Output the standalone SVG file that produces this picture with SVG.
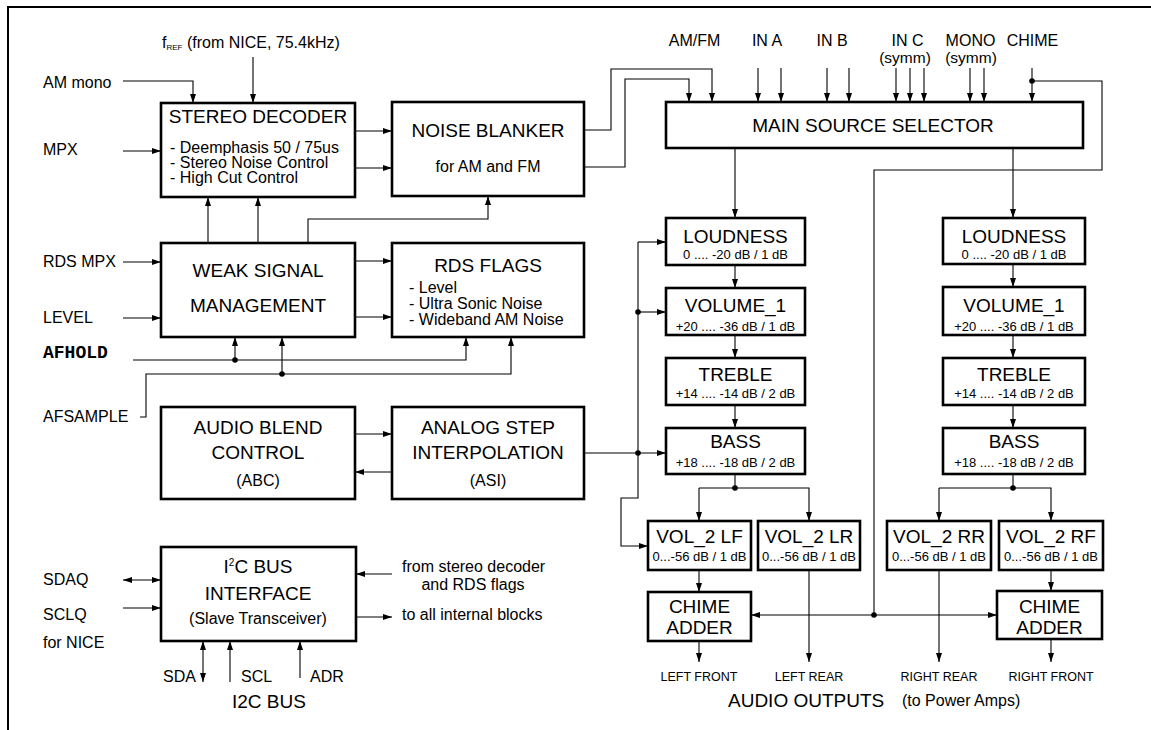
<svg xmlns="http://www.w3.org/2000/svg" width="1151" height="730" viewBox="0 0 1151 730">
<defs>
<marker id="ah" viewBox="0 0 9 6" refX="9" refY="3" markerWidth="9" markerHeight="6" markerUnits="userSpaceOnUse" orient="auto-start-reverse">
<path d="M0,0 L9,3 L0,6 z" fill="#000"/>
</marker>
<style>
text{font-family:"Liberation Sans",Arial,sans-serif;fill:#000}
.box{fill:#fff;stroke:#000;stroke-width:2.6}
.ln{fill:none;stroke:#000;stroke-width:1.1}
.a{marker-end:url(#ah)}
.aa{marker-end:url(#ah);marker-start:url(#ah)}
.t19{font-size:19px}
.t16{font-size:16px}
.t15{font-size:15.5px}
.t13{font-size:13px}
.t12{font-size:12.5px}
.c{text-anchor:middle}
.mono{font-family:"Liberation Mono","Courier New",monospace;font-weight:bold;font-size:18px}
.dot{fill:#000}
</style>
</defs>
<rect width="1151" height="730" fill="#fff"/>
<path d="M8,730 V7 H1151" fill="none" stroke="#000" stroke-width="2"/>

<g id="stereo-decoder">
<rect class="box" x="161" y="103" width="194" height="94"/>
<text class="t19 c" x="258" y="123">STEREO DECODER</text>
<text class="t16" x="170" y="153">- Deemphasis 50 / 75us</text>
<text class="t16" x="170" y="168">- Stereo Noise Control</text>
<text class="t16" x="170" y="183">- High Cut Control</text>
</g>
<g id="noise-blanker">
<rect class="box" x="392" y="102" width="192" height="94"/>
<text class="t19 c" x="488" y="137">NOISE BLANKER</text>
<text class="t16 c" x="488" y="172">for AM and FM</text>
</g>
<g id="weak-signal">
<rect class="box" x="161" y="243" width="194" height="94"/>
<text class="t19 c" x="258" y="277">WEAK SIGNAL</text>
<text class="t19 c" x="258" y="312">MANAGEMENT</text>
</g>
<g id="rds-flags">
<rect class="box" x="392" y="243" width="192" height="94"/>
<text class="t19 c" x="488" y="272">RDS FLAGS</text>
<text class="t16" x="409" y="293">- Level</text>
<text class="t16" x="409" y="309">- Ultra Sonic Noise</text>
<text class="t16" x="409" y="325">- Wideband AM Noise</text>
</g>
<g id="abc">
<rect class="box" x="161" y="407" width="194" height="92"/>
<text class="t19 c" x="258" y="434">AUDIO BLEND</text>
<text class="t19 c" x="258" y="459">CONTROL</text>
<text class="t16 c" x="258" y="486">(ABC)</text>
</g>
<g id="asi">
<rect class="box" x="392" y="407" width="192" height="92"/>
<text class="t19 c" x="488" y="434">ANALOG STEP</text>
<text class="t19 c" x="488" y="459">INTERPOLATION</text>
<text class="t16 c" x="488" y="486">(ASI)</text>
</g>
<g id="i2c">
<rect class="box" x="161" y="547" width="195" height="94"/>
<text class="t19 c" x="258" y="573">I<tspan font-size="10" baseline-shift="7">2</tspan>C BUS</text>
<text class="t19 c" x="258" y="600">INTERFACE</text>
<text class="t16 c" x="258" y="624">(Slave Transceiver)</text>
</g>
<g id="main-source-selector">
<rect class="box" x="666" y="102" width="417" height="46"/>
<text class="t19 c" x="873" y="132">MAIN SOURCE SELECTOR</text>
</g>
<g id="loudness-l">
<rect class="box" x="666" y="218" width="139" height="47"/>
<text class="t19 c" x="735.5" y="242.5">LOUDNESS</text>
<text class="t13 c" x="735.5" y="259">0 .... -20 dB / 1 dB</text>
</g>
<g id="volume1-l">
<rect class="box" x="666" y="288" width="139" height="47"/>
<text class="t19 c" x="735.5" y="312">VOLUME_1</text>
<text class="t13 c" x="735.5" y="331">+20 .... -36 dB / 1 dB</text>
</g>
<g id="treble-l">
<rect class="box" x="666" y="358" width="139" height="47"/>
<text class="t19 c" x="735.5" y="381">TREBLE</text>
<text class="t13 c" x="735.5" y="398">+14 .... -14 dB / 2 dB</text>
</g>
<g id="bass-l">
<rect class="box" x="666" y="428" width="139" height="46"/>
<text class="t19 c" x="735.5" y="448">BASS</text>
<text class="t13 c" x="735.5" y="467">+18 .... -18 dB / 2 dB</text>
</g>
<g id="loudness-r">
<rect class="box" x="943" y="218" width="142" height="46"/>
<text class="t19 c" x="1014" y="242.5">LOUDNESS</text>
<text class="t13 c" x="1014" y="259">0 .... -20 dB / 1 dB</text>
</g>
<g id="volume1-r">
<rect class="box" x="943" y="287" width="142" height="48"/>
<text class="t19 c" x="1014" y="312">VOLUME_1</text>
<text class="t13 c" x="1014" y="331">+20 .... -36 dB / 1 dB</text>
</g>
<g id="treble-r">
<rect class="box" x="943" y="358" width="142" height="47"/>
<text class="t19 c" x="1014" y="381">TREBLE</text>
<text class="t13 c" x="1014" y="398">+14 .... -14 dB / 2 dB</text>
</g>
<g id="bass-r">
<rect class="box" x="943" y="428" width="142" height="46"/>
<text class="t19 c" x="1014" y="448">BASS</text>
<text class="t13 c" x="1014" y="467">+18 .... -18 dB / 2 dB</text>
</g>
<g id="vol2-lf">
<rect class="box" x="648" y="521" width="103" height="49"/>
<text class="t19 c" x="699.5" y="543">VOL_2 LF</text>
<text class="t13 c" x="699.5" y="561">0...-56 dB / 1 dB</text>
</g>
<g id="vol2-lr">
<rect class="box" x="758" y="521" width="102" height="49"/>
<text class="t19 c" x="809" y="543">VOL_2 LR</text>
<text class="t13 c" x="809" y="561">0...-56 dB / 1 dB</text>
</g>
<g id="vol2-rr">
<rect class="box" x="887" y="521" width="104" height="49"/>
<text class="t19 c" x="939" y="543">VOL_2 RR</text>
<text class="t13 c" x="939" y="561">0...-56 dB / 1 dB</text>
</g>
<g id="vol2-rf">
<rect class="box" x="999" y="521" width="104" height="49"/>
<text class="t19 c" x="1051" y="543">VOL_2 RF</text>
<text class="t13 c" x="1051" y="561">0...-56 dB / 1 dB</text>
</g>
<g id="chime-adder-l">
<rect class="box" x="648" y="592" width="103" height="49"/>
<text class="t19 c" x="699.5" y="613">CHIME</text>
<text class="t19 c" x="699.5" y="634">ADDER</text>
</g>
<g id="chime-adder-r">
<rect class="box" x="997" y="591" width="105" height="48"/>
<text class="t19 c" x="1049.5" y="613">CHIME</text>
<text class="t19 c" x="1049.5" y="634">ADDER</text>
</g>

<g id="labels">
<text class="t16" x="162" y="47.5">f<tspan font-size="8" dy="2">REF</tspan><tspan dy="-2"> (from NICE, 75.4kHz)</tspan></text>
<text class="t16" x="43" y="88">AM mono</text>
<text class="t16" x="43" y="155">MPX</text>
<text class="t16" x="43" y="267">RDS MPX</text>
<text class="t16" x="43" y="323">LEVEL</text>
<text class="mono" x="43" y="358">AFHOLD</text>
<text class="t16" x="43" y="422">AFSAMPLE</text>
<text class="t16" x="43" y="585">SDAQ</text>
<text class="t16" x="43" y="620">SCLQ</text>
<text class="t16" x="43" y="648">for NICE</text>
<text class="t16" x="402" y="572">from stereo decoder</text>
<text class="t16 c" x="473" y="590">and RDS flags</text>
<text class="t16" x="402" y="620">to all internal blocks</text>
<text class="t16" x="163" y="682">SDA</text>
<text class="t16" x="241" y="682">SCL</text>
<text class="t16" x="310" y="682">ADR</text>
<text class="t19" x="232" y="708">I2C BUS</text>
<text class="t16 c" x="694.5" y="46">AM/FM</text>
<text class="t16 c" x="767" y="46">IN A</text>
<text class="t16 c" x="832" y="46">IN B</text>
<text class="t16 c" x="907.5" y="45.5">IN C</text>
<text class="t15 c" x="905" y="63">(symm)</text>
<text class="t16 c" x="970.5" y="45.5">MONO</text>
<text class="t15 c" x="971" y="63">(symm)</text>
<text class="t16 c" x="1032.5" y="46">CHIME</text>
<text class="t12 c" x="699" y="681">LEFT FRONT</text>
<text class="t12 c" x="809" y="681">LEFT REAR</text>
<text class="t12 c" x="939" y="681">RIGHT REAR</text>
<text class="t12 c" x="1051" y="681">RIGHT FRONT</text>
<text class="t19" x="728" y="707">AUDIO OUTPUTS</text>
<text class="t16" x="902" y="706">(to Power Amps)</text>
</g>

<g id="connectors">
<path class="ln a" d="M253,57 V103"/>
<path class="ln a" d="M123,81 H193 V103"/>
<path class="ln a" d="M123,151 H161"/>
<path class="ln a" d="M355,131 H392"/>
<path class="ln a" d="M355,168 H392"/>
<path class="ln a" d="M208,243 V197"/>
<path class="ln a" d="M258,243 V197"/>
<path class="ln a" d="M308,243 V219 H488 V196"/>
<path class="ln a" d="M123,262 H161"/>
<path class="ln a" d="M123,318 H161"/>
<path class="ln a" d="M355,261 H392"/>
<path class="ln a" d="M355,317 H392"/>
<path class="ln a" d="M133,360 H466 V337"/>
<path class="ln a" d="M235,360 V337"/>
<path class="ln a" d="M140,417 H146 V374 H511 V337"/>
<path class="ln a" d="M282,374 V337"/>
<path class="ln a" d="M355,434 H392"/>
<path class="ln a" d="M392,472 H355"/>
<path class="ln a" d="M584,130 H611 V69 H712 V102"/>
<path class="ln a" d="M584,167 H625 V79 H689 V102"/>
<path class="ln a" d="M758,68 V102"/>
<path class="ln a" d="M781,68 V102"/>
<path class="ln a" d="M827,68 V102"/>
<path class="ln a" d="M849,68 V102"/>
<path class="ln a" d="M896,68 V102"/>
<path class="ln a" d="M910,68 V102"/>
<path class="ln a" d="M924,68 V102"/>
<path class="ln a" d="M970,68 V102"/>
<path class="ln a" d="M984,68 V102"/>
<path class="ln a" d="M1032,68 V102"/>
<path class="ln" d="M1032,81 H1102 V170 H874 V615"/>
<path class="ln aa" d="M751,615 H997"/>
<path class="ln a" d="M735,148 V218"/>
<path class="ln a" d="M1013,148 V218"/>
<path class="ln a" d="M735,265 V288"/>
<path class="ln a" d="M735,335 V358"/>
<path class="ln a" d="M735,405 V428"/>
<path class="ln a" d="M1013,264 V287"/>
<path class="ln a" d="M1013,335 V358"/>
<path class="ln a" d="M1013,405 V428"/>
<path class="ln a" d="M584,453 H666"/>
<path class="ln a" d="M638,242 V498 H621 V546 H648"/>
<path class="ln a" d="M638,242 H666"/>
<path class="ln a" d="M638,312 H666"/>
<path class="ln" d="M735,474 V488"/>
<path class="ln a" d="M699,488 V521"/>
<path class="ln a" d="M699,488 H809 V521"/>
<path class="ln" d="M1013,474 V488"/>
<path class="ln a" d="M939,488 V521"/>
<path class="ln a" d="M939,488 H1051 V521"/>
<path class="ln a" d="M699,570 V592"/>
<path class="ln a" d="M1051,570 V591"/>
<path class="ln a" d="M699,641 V662"/>
<path class="ln a" d="M809,570 V662"/>
<path class="ln a" d="M939,570 V662"/>
<path class="ln a" d="M1051,639 V662"/>
<path class="ln aa" d="M123,580 H161"/>
<path class="ln a" d="M123,608 H161"/>
<path class="ln a" d="M392,574 H356"/>
<path class="ln a" d="M356,617 H392"/>
<path class="ln aa" d="M203,641 V682"/>
<path class="ln a" d="M230,682 V641"/>
<path class="ln a" d="M300,678 V641"/>
<circle class="dot" cx="235" cy="360" r="2.8"/>
<circle class="dot" cx="282" cy="374" r="2.8"/>
<circle class="dot" cx="1032" cy="81" r="2.8"/>
<circle class="dot" cx="874" cy="615" r="2.8"/>
<circle class="dot" cx="638" cy="312" r="2.8"/>
<circle class="dot" cx="638" cy="453" r="2.8"/>
<circle class="dot" cx="735" cy="488" r="2.8"/>
<circle class="dot" cx="1013" cy="488" r="2.8"/>
</g>
</svg>
